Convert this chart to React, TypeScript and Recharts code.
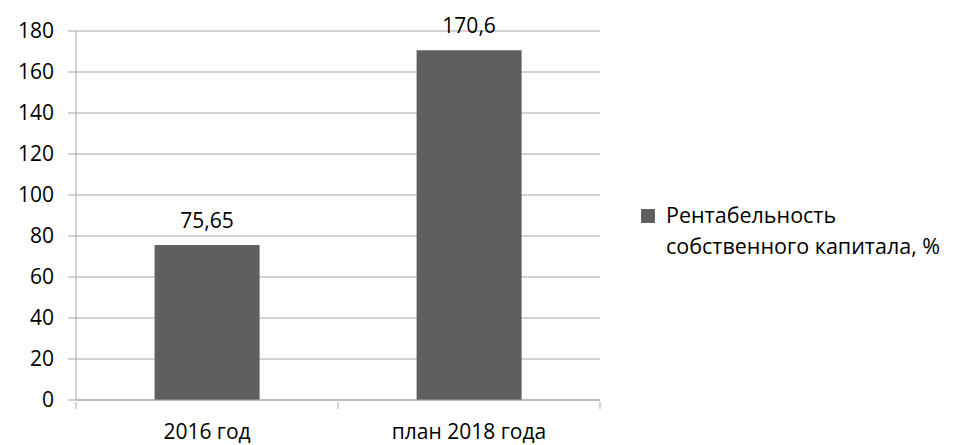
import React from 'react';
import { BarChart, Bar, XAxis, YAxis, CartesianGrid, LabelList } from 'recharts';

const categories = ['2016 год', 'план 2018 года'];
const values = [75.65, 170.6];
const yTicks = [0, 20, 40, 60, 80, 100, 120, 140, 160, 180];
const seriesName = 'Рентабельность собственного капитала, %';

const data = categories.map((name, i) => ({ name, value: values[i] }));

const FONT = '"Open Sans", sans-serif';
const FS = 21;
const GRID = '#a6a6a6';
const BAR = '#5f5f5f';

const CategoryTick = (props: any) => {
  const { x, y, payload, index } = props;
  const half = 131;
  return (
    <g>
      <line x1={x - half} y1={y} x2={x - half} y2={y + 7} stroke={GRID} />
      {index === categories.length - 1 && (
        <line x1={x + half} y1={y} x2={x + half} y2={y + 7} stroke={GRID} />
      )}
      <text x={x} y={y + 37} textAnchor="middle" fill="#000" fontSize={FS} fontFamily={FONT}>
        {payload.value}
      </text>
    </g>
  );
};

export default function App() {
  return (
    <div style={{ position: 'absolute', left: 0, top: 0, width: 960, height: 445, background: '#fff' }}>
      <BarChart
        width={960}
        height={445}
        data={data}
        margin={{ top: 31, right: 360, bottom: 0, left: 0 }}
        barCategoryGap="30%"
      >
        <CartesianGrid vertical={false} stroke={GRID} />
        <XAxis
          dataKey="name"
          axisLine={{ stroke: GRID }}
          tickLine={false}
          tickSize={0}
          tick={<CategoryTick />}
          height={45}
          interval={0}
        />
        <YAxis
          width={76}
          domain={[0, 180]}
          ticks={yTicks}
          interval={0}
          axisLine={{ stroke: GRID }}
          tickLine={{ stroke: GRID }}
          tickSize={8}
          tickMargin={14}
          tick={{ fill: '#000', fontSize: FS, fontFamily: FONT }}
        />
        <Bar dataKey="value" name={seriesName} fill={BAR} isAnimationActive={false}>
          <LabelList
            dataKey="value"
            position="top"
            offset={17}
            formatter={(v: any) => String(v).replace('.', ',')}
            style={{ fill: '#000', fontSize: FS, fontFamily: FONT }}
          />
        </Bar>
      </BarChart>
      <div
        style={{
          position: 'absolute',
          left: 641,
          top: 199,
          width: 315,
          display: 'flex',
          alignItems: 'flex-start',
          fontFamily: FONT,
          fontSize: 21.5,
          color: '#000',
          lineHeight: '31px',
        }}
      >
        <div style={{ width: 14, height: 14, background: BAR, marginTop: 10, marginRight: 11, flexShrink: 0 }} />
        <div>
          Рентабельность
          <br />
          собственного капитала, %
        </div>
      </div>
    </div>
  );
}
